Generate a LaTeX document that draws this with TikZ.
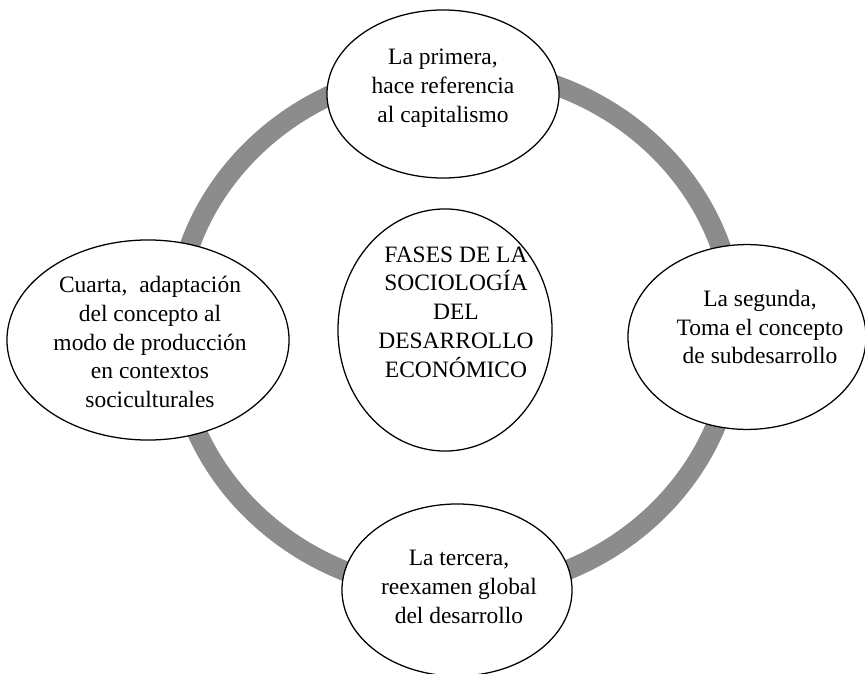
\documentclass[tikz,border=0pt]{standalone}
\usepackage{fontspec}
\setmainfont{Liberation Serif}
\usetikzlibrary{shapes.geometric}
\definecolor{ringgray}{RGB}{140,140,140}

\begin{document}
\begin{tikzpicture}[
        x=0.025cm, y=0.025cm,
        font=\fontsize{16.7}{20.5}\selectfont,
        ring/.style={draw=ringgray, line width=0.5cm},
        phase/.style={draw, ellipse, line width=0.9pt, fill=white, inner sep=0pt},
        txt/.style={align=center, inner sep=0pt}
    ]
        \useasboundingbox (0,0) rectangle (865,673);

        % gray ring behind the phases
        \draw[ring] (455,343) ellipse [x radius=7cm, y radius=6.55cm];

        \node[phase, minimum width=5.8cm,  minimum height=4.2cm]  (prim)  at (443,579) {};
        \node[phase, minimum width=5.95cm, minimum height=4.62cm] (seg)   at (747,336) {};
        \node[phase, minimum width=5.75cm, minimum height=4.3cm]  (terc)  at (457,83)  {};
        \node[phase, minimum width=7.05cm, minimum height=5.0cm]  (cuar)  at (148,333) {};
        \node[phase, minimum width=5.35cm, minimum height=6.05cm] (fases) at (445,343) {};

        \node[txt] (prim-t)  at (443,585) {La primera,\\hace referencia\\al capitalismo};
        \node[txt] (seg-t)   at (760,346) {La segunda,\\Toma el concepto\\de subdesarrollo};
        \node[txt] (terc-t)  at (459,86)  {La tercera,\\reexamen global\\del desarrollo};
        \node[txt] (cuar-t)  at (150,331) {Cuarta,\ \ adaptación\\del concepto al\\modo de producción\\en contextos\\sociculturales};
        \node[txt] (fases-t) at (456,361) {FASES DE LA\\SOCIOLOGÍA\\DEL\\DESARROLLO\\ECONÓMICO};
    \end{tikzpicture}
\end{document}
